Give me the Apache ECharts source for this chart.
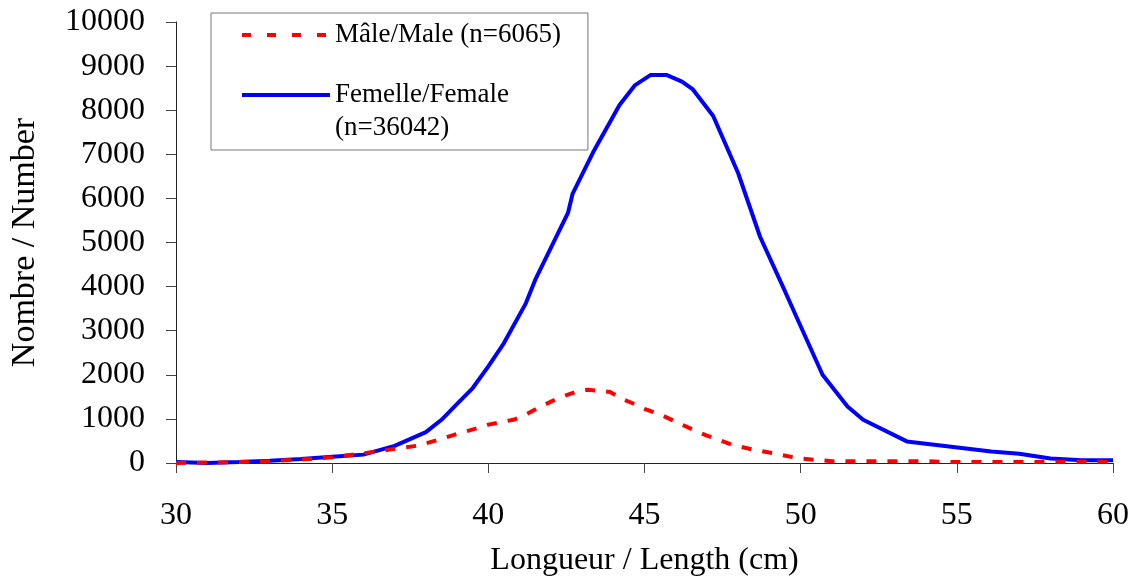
<!DOCTYPE html>
<html>
<head>
<meta charset="utf-8">
<script src="https://cdn.jsdelivr.net/npm/echarts@6/dist/echarts.min.js"></script>
<style>
  html, body { margin: 0; padding: 0; background: #ffffff; }
  #chart { width: 1136px; height: 582px; }
</style>
</head>
<body>
<div id="chart"></div>
<script>
// ---- Data ----
const maleName = 'Mâle/Male (n=6065)';
const femaleName = 'Femelle/Female (n=36042)';
const femaleLegendLines = ['Femelle/Female', '(n=36042)'];

const maleLength = [30, 31, 32, 33, 34, 35, 36, 37, 37.8, 38.5, 39, 39.8, 40, 40.8, 41.1, 41.6, 42.2, 42.4, 42.9, 43.2, 43.9, 44.3, 44.6, 45, 45.6, 46.2, 46.6, 47, 47.8, 48.5, 49.1, 49.9, 50.5, 51, 52, 53, 54, 55, 56, 57, 58, 59, 60];
const maleCount  = [0, 10, 20, 40, 80, 130, 220, 320, 400, 550, 660, 820, 870, 980, 1060, 1250, 1460, 1510, 1640, 1660, 1610, 1450, 1360, 1230, 1070, 870, 740, 620, 415, 300, 225, 110, 70, 40, 40, 40, 40, 20, 20, 20, 30, 30, 30];

const femaleLength = [30, 31, 32, 33, 34, 35, 36, 37, 38, 38.5, 39, 39.5, 40, 40.5, 41.2, 41.5, 42.55, 42.7, 43.35, 44.2, 44.7, 45.2, 45.7, 46.2, 46.55, 47.2, 48, 48.7, 49.5, 50, 50.7, 51.5, 52, 53.4, 56.1, 57, 58, 59, 60];
const femaleCount  = [20, 0, 20, 50, 90, 140, 190, 390, 700, 980, 1340, 1700, 2190, 2720, 3620, 4150, 5670, 6110, 7040, 8120, 8570, 8800, 8800, 8650, 8470, 7870, 6570, 5130, 3890, 3100, 2000, 1280, 980, 490, 260, 210, 100, 60, 60];

const xMin = 30, xMax = 60, xStep = 5;
const yMin = 0, yMax = 10000, yStep = 1000;
const xTitle = 'Longueur / Length (cm)';
const yTitle = 'Nombre / Number';

const pairs = (xs, ys) => xs.map((x, i) => [x, ys[i]]);

const FONT = 'Liberation Serif, Times New Roman, serif';

const chart = echarts.init(document.getElementById('chart'), null, { renderer: 'canvas' });
chart.setOption({
  animation: false,
  backgroundColor: '#ffffff',
  grid: { left: 171, right: 23, top: 22, bottom: 119, containLabel: false },
  legend: {
    orient: 'vertical',
    left: 211,
    top: 13,
    padding: [5.5, 27, 5.5, 29],
    borderColor: '#777777',
    borderWidth: 1,
    itemWidth: 88,
    itemHeight: 14,
    itemGap: -6,
    itemStyle: { opacity: 0 },
    textStyle: { fontFamily: FONT, fontSize: 27, color: '#000000', lineHeight: 33 },
    formatter: function (name) {
      // first empty line keeps the line icon level with the first text line
      return name === femaleName ? ' \n' + femaleLegendLines.join('\n') : name;
    },
    data: [
      { name: maleName, lineStyle: { width: 4, type: [9, 16] } },
      { name: femaleName, lineStyle: { width: 4 } }
    ]
  },
  xAxis: {
    type: 'value',
    min: xMin, max: xMax, interval: xStep,
    name: xTitle,
    nameLocation: 'middle',
    nameGap: 82,
    nameTextStyle: { fontFamily: FONT, fontSize: 32, color: '#000000' },
    axisLine: { onZero: false, lineStyle: { color: '#222222', width: 1 } },
    axisTick: { show: true, inside: false, length: 10, lineStyle: { color: '#444444' } },
    axisLabel: { margin: 37, fontFamily: FONT, fontSize: 32, color: '#000000' },
    splitLine: { show: false }
  },
  yAxis: {
    type: 'value',
    min: yMin, max: yMax, interval: yStep,
    name: yTitle,
    nameLocation: 'middle',
    nameGap: 134,
    nameTextStyle: { fontFamily: FONT, fontSize: 34, color: '#000000' },
    axisLine: { show: true, lineStyle: { color: '#222222', width: 1 } },
    axisTick: { show: true, inside: false, length: 10, lineStyle: { color: '#444444' } },
    axisLabel: { margin: 31, fontFamily: FONT, fontSize: 32, color: '#000000',
      formatter: function (v) { return String(v); } },
    splitLine: { show: false }
  },
  series: [
    {
      name: maleName,
      type: 'line',
      data: pairs(maleLength, maleCount),
      showSymbol: false,
      symbol: 'none',
      z: 3,
      lineStyle: { color: '#ff0000', width: 4, type: [10, 11] },
      itemStyle: { color: '#ff0000' }
    },
    {
      name: femaleName,
      type: 'line',
      data: pairs(femaleLength, femaleCount),
      showSymbol: false,
      symbol: 'none',
      z: 2,
      lineStyle: { color: '#0000ff', width: 4, type: 'solid' },
      itemStyle: { color: '#0000ff' }
    }
  ]
});
</script>
</body>
</html>
